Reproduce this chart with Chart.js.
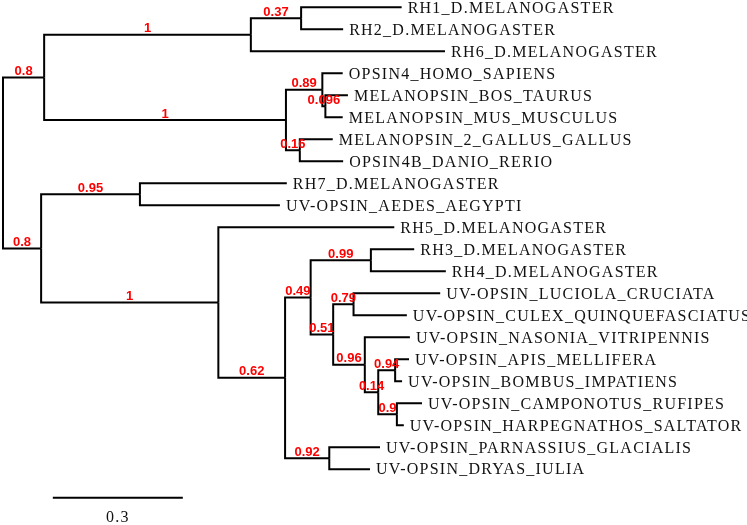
<!DOCTYPE html>
<html>
<head>
<meta charset="utf-8">
<script src="https://cdn.jsdelivr.net/npm/chart.js@4.4.1/dist/chart.umd.min.js"></script>
<style>
  html, body { margin: 0; padding: 0; background: #fff; }
  canvas { display: block; }
</style>
</head>
<body>
<canvas id="tree" width="747" height="525"></canvas>
<script>
// leaves, top to bottom (row index = position in the list)
var leafNames = [
    'RH1_D.MELANOGASTER', 'RH2_D.MELANOGASTER', 'RH6_D.MELANOGASTER',
    'OPSIN4_HOMO_SAPIENS', 'MELANOPSIN_BOS_TAURUS', 'MELANOPSIN_MUS_MUSCULUS',
    'MELANOPSIN_2_GALLUS_GALLUS', 'OPSIN4B_DANIO_RERIO',
    'RH7_D.MELANOGASTER', 'UV-OPSIN_AEDES_AEGYPTI',
    'RH5_D.MELANOGASTER', 'RH3_D.MELANOGASTER', 'RH4_D.MELANOGASTER',
    'UV-OPSIN_LUCIOLA_CRUCIATA', 'UV-OPSIN_CULEX_QUINQUEFASCIATUS',
    'UV-OPSIN_NASONIA_VITRIPENNIS', 'UV-OPSIN_APIS_MELLIFERA', 'UV-OPSIN_BOMBUS_IMPATIENS',
    'UV-OPSIN_CAMPONOTUS_RUFIPES', 'UV-OPSIN_HARPEGNATHOS_SALTATOR',
    'UV-OPSIN_PARNASSIUS_GLACIALIS', 'UV-OPSIN_DRYAS_IULIA'
];
// distance of each leaf from the root
var leafDepths = [
    0.920, 0.785, 1.020,
    0.784, 0.796, 0.784,
    0.761, 0.785,
    0.655, 0.639,
    0.903, 0.949, 1.022,
    1.009, 0.932,
    0.939, 0.937, 0.921,
    0.967, 0.925,
    0.870, 0.847
];

// internal nodes: children are leaf indexes (numbers) or node ids (strings)
var nodeIds      = ['root', 'a', 'a1', 'n037', 'a2', 'n089', 'n096', 'n016',
                    'b', 'n095', 'c', 'd', 'e', 'n099', 'h', 'n079', 'j', 'k', 'n094', 'n09', 'n092'];
var nodeDepths   = [0, 0.095, 0.572, 0.688, 0.653, 0.737, 0.744, 0.685,
                    0.088, 0.316, 0.497, 0.651, 0.710, 0.849, 0.762, 0.809, 0.835, 0.866, 0.905, 0.909, 0.753];
var nodeSupport  = [null, 0.8, 1, 0.37, 1, 0.89, 0.096, 0.16,
                    0.8, 0.95, 1, 0.62, 0.49, 0.99, 0.51, 0.79, 0.96, 0.14, 0.94, 0.9, 0.92];
var nodeChildren = [
    ['a', 'b'], ['a1', 'a2'], ['n037', 2], [0, 1], ['n089', 'n016'], [3, 'n096'], [4, 5], [6, 7],
    ['n095', 'c'], [8, 9], [10, 'd'], ['e', 'n092'], ['n099', 'h'], [11, 12], ['n079', 'j'],
    [13, 14], [15, 'k'], ['n094', 'n09'], [16, 17], [18, 19], [20, 21]
];

var scaleBarStart = 0.115;
var scaleBarLength = 0.3;
var scaleBarLabel = '0.3';

// row of the scale bar and its label, below the last leaf
var scaleBarRow = 22.29;
var scaleLabelRow = 23.19;

var pos = {};
function place(id) {
    if (typeof id === 'number') {
        return { x: leafDepths[id], y: id };
    }
    if (pos[id]) return pos[id];
    var k = nodeIds.indexOf(id);
    var kids = nodeChildren[k].map(place);
    pos[id] = { x: nodeDepths[k], y: (kids[0].y + kids[kids.length - 1].y) / 2 };
    return pos[id];
}
place('root');

var datasets = [];
var supportLabels = [];

for (var k = 0; k < nodeIds.length; k++) {
    var p = pos[nodeIds[k]];
    nodeChildren[k].forEach(function (c) {
        var q = place(c);
        datasets.push({
            data: [{ x: p.x, y: p.y }, { x: p.x, y: q.y }, { x: q.x, y: q.y }]
        });
        if (typeof c === 'string') {
            var ci = nodeIds.indexOf(c);
            supportLabels.push({ text: String(nodeSupport[ci]), x: (p.x + q.x) / 2, y: q.y });
        }
    });
}

// scale bar
datasets.push({
    data: [{ x: scaleBarStart, y: scaleBarRow }, { x: scaleBarStart + scaleBarLength, y: scaleBarRow }]
});

datasets.forEach(function (d) {
    d.showLine = true;
    d.borderColor = '#000';
    d.borderWidth = 2;
    d.pointRadius = 0;
    d.fill = false;
    d.tension = 0;
    d.borderJoinStyle = 'miter';
});

var treeText = {
    id: 'treeText',
    afterDatasetsDraw: function (chart) {
        var ctx = chart.ctx;
        var sx = chart.scales.x;
        var sy = chart.scales.y;
        ctx.save();

        // leaf names
        ctx.font = '16px "Liberation Serif", "Times New Roman", serif';
        ctx.letterSpacing = '1.25px';
        ctx.fillStyle = '#111';
        ctx.textAlign = 'left';
        ctx.textBaseline = 'middle';
        for (var i = 0; i < leafNames.length; i++) {
            ctx.fillText(leafNames[i], sx.getPixelForValue(leafDepths[i]) + 6, sy.getPixelForValue(i) + 1);
        }

        // scale bar label
        ctx.textAlign = 'center';
        ctx.fillText(scaleBarLabel, sx.getPixelForValue(scaleBarStart + scaleBarLength / 2), sy.getPixelForValue(scaleLabelRow));

        // support values
        ctx.font = 'bold 13px "Liberation Sans", Arial, sans-serif';
        ctx.letterSpacing = '0px';
        ctx.fillStyle = '#ff0000';
        ctx.textBaseline = 'alphabetic';
        supportLabels.forEach(function (s) {
            ctx.fillText(s.text, sx.getPixelForValue(s.x), sy.getPixelForValue(s.y) - 2.5);
        });

        ctx.restore();
    }
};

new Chart(document.getElementById('tree'), {
    type: 'scatter',
    data: { datasets: datasets },
    options: {
        responsive: false,
        animation: false,
        devicePixelRatio: 1,
        layout: { padding: 0 },
        plugins: {
            legend: { display: false },
            tooltip: { enabled: false }
        },
        scales: {
            x: { type: 'linear', min: -0.0069, max: 1.717, display: false },
            y: { type: 'linear', min: -0.332, max: 23.532, reverse: true, display: false }
        }
    },
    plugins: [treeText]
});
</script>
</body>
</html>
